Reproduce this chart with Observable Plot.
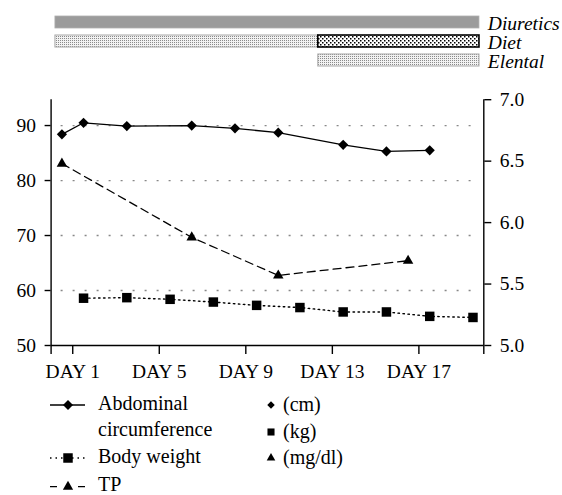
<!DOCTYPE html>
<html><head><meta charset="utf-8">
<script src="https://cdn.jsdelivr.net/npm/d3@7"></script>
<script src="https://cdn.jsdelivr.net/npm/@observablehq/plot@0.6"></script>
<style>
body{margin:0;background:#fff;}
#chart{width:562px;height:495px;position:relative;overflow:hidden;background:#fff;font-family:"Liberation Serif",serif;}
#chart svg{display:block;}
#chart svg, #chart svg text{font-family:"Liberation Serif",serif !important;}
</style></head><body>
<svg width="0" height="0" style="position:absolute">
<defs>
<pattern id="lightDots" width="2" height="2" patternUnits="userSpaceOnUse">
<rect width="2" height="2" fill="#f2f2f2"/><rect width="1" height="1" fill="#8a8a8a"/>
</pattern>
<pattern id="darkDots" width="4" height="4" patternUnits="userSpaceOnUse">
<rect width="4" height="4" fill="#fff"/><rect width="1.5" height="1.5" fill="#000"/><rect x="2" y="2" width="1.5" height="1.5" fill="#000"/>
</pattern>
</defs></svg>
<div id="chart"></div>
<script>
// ---- data ----
const treatments = ["Diuretics", "Diet", "Elental"];
const periodTreatment = ["Diuretics", "Diet", "Diet", "Elental"];
const periodStart = [0.2, 0.2, 12.35, 12.35];
const periodEnd = [19.8, 12.35, 19.8, 19.8];
const periodKind = ["solid", "light", "dark", "light"];

const dayTicks = [1, 5, 9, 13, 17];
const dayLabels = ["DAY 1", "DAY 5", "DAY 9", "DAY 13", "DAY 17"];
const leftTicks = [50, 60, 70, 80, 90];
const rightTicks = [5.0, 5.5, 6.0, 6.5, 7.0];

const abdDays = [0.5, 1.5, 3.5, 6.5, 8.5, 10.5, 13.5, 15.5, 17.5];
const abdValues = [88.4, 90.5, 89.9, 90.0, 89.5, 88.7, 86.5, 85.3, 85.5];
const bwDays = [1.5, 3.5, 5.5, 7.5, 9.5, 11.5, 13.5, 15.5, 17.5, 19.5];
const bwValues = [58.6, 58.7, 58.4, 57.9, 57.3, 56.9, 56.1, 56.1, 55.3, 55.1];
const tpDays = [0.5, 6.5, 10.5, 16.5];
const tpValues = [6.48, 5.88, 5.57, 5.69];

const legendSeries = ["Abdominal\ncircumference", "Body weight", "TP"];
const legendUnits = ["(cm)", "(kg)", "(mg/dl)"];

// ---- scales helpers ----
const yLeftDomain = [50, 94.7];
const yRightDomain = [5, 7];
const kScale = (yLeftDomain[1] - yLeftDomain[0]) / (yRightDomain[1] - yRightDomain[0]);
const toLeft = v => yLeftDomain[0] + (v - yRightDomain[0]) * kScale;
const fromLeft = v => yRightDomain[0] + (v - yLeftDomain[0]) / kScale;

const fontName = "Liberation Serif";
const fillFor = {solid: "#9b9b9b", light: "url(#lightDots)", dark: "url(#darkDots)"};
const strokeFor = {solid: "#b0b0b0", light: "#a8a8a8", dark: "#000"};
const strokeWFor = {solid: 0.8, light: 1, dark: 1.6};

const periods = periodTreatment.map((t, i) => ({t, x1: periodStart[i], x2: periodEnd[i], kind: periodKind[i]}));
const abd = abdDays.map((d, i) => ({d, v: abdValues[i]}));
const bw = bwDays.map((d, i) => ({d, v: bwValues[i]}));
const tp = tpDays.map((d, i) => ({d, v: tpValues[i]}));

const chartEl = document.getElementById("chart");
const M = {left: 50.6, right: 78.7};

// ---- treatment bars ----
const topPlot = Plot.plot({
  width: 562, height: 80, marginLeft: M.left, marginRight: M.right, marginTop: 0, marginBottom: 0,
  style: {fontFamily: fontName, fontSize: "19px", color: "#000", background: "transparent", overflow: "visible"},
  x: {domain: [0, 20], axis: null},
  y: {type: "band", domain: treatments, range: [15.7, 66.6], paddingInner: 0.363, paddingOuter: 0, axis: null},
  marks: [
    Plot.barX(periods, {x1: "x1", x2: "x2", y: "t", fill: d => fillFor[d.kind], stroke: d => strokeFor[d.kind], strokeWidth: d => strokeWFor[d.kind]}),
    Plot.text(treatments, {y: d => d, frameAnchor: "right", textAnchor: "start", dx: 4, dy: 1, fontStyle: "italic", fontSize: 19.5})
  ]
});
chartEl.appendChild(topPlot);

// ---- main chart ----
const mainPlot = Plot.plot({
  width: 562, height: 300, marginTop: 19.2, marginBottom: 35, marginLeft: M.left, marginRight: M.right,
  style: {fontFamily: fontName, fontSize: "19.5px", color: "#000", background: "transparent", overflow: "visible"},
  x: {domain: [0, 20]},
  y: {domain: yLeftDomain},
  marks: [
    Plot.ruleY([60, 70, 80, 90], {stroke: "#888", strokeWidth: 1.3, strokeDasharray: "2,10", insetLeft: 10, insetRight: 4}),
    Plot.ruleY([yLeftDomain[0]], {stroke: "#000", strokeWidth: 1.4}),
    Plot.ruleX([0, 20], {stroke: "#000", strokeWidth: 1.4, insetBottom: -9}),
    Plot.axisY({anchor: "left", ticks: leftTicks, tickSize: 6, tickPadding: 9, tickFormat: d => String(d), label: null, strokeWidth: 1.4}),
    Plot.axisY({anchor: "right", ticks: rightTicks.map(toLeft), tickSize: 7, tickPadding: 9, tickFormat: d => fromLeft(d).toFixed(1), label: null, strokeWidth: 1.4}),
    Plot.axisX({ticks: dayTicks, tickSize: 9, tickPadding: 10, tickFormat: d => dayLabels[dayTicks.indexOf(d)], label: null, strokeWidth: 1.4}),
    Plot.line(bw, {x: "d", y: "v", stroke: "#000", strokeWidth: 1.4, strokeDasharray: "1.5,3.5"}),
    Plot.line(tp, {x: "d", y: d => toLeft(d.v), stroke: "#000", strokeWidth: 1.3, strokeDasharray: "8,5"}),
    Plot.line(abd, {x: "d", y: "v", stroke: "#000", strokeWidth: 1.3}),
    Plot.dot(bw, {x: "d", y: "v", symbol: "square", r: 5.35, fill: "#000", stroke: null}),
    Plot.dot(tp, {x: "d", y: d => toLeft(d.v), symbol: "triangle", r: 3.9, fill: "#000", stroke: null}),
    Plot.dot(abd, {x: "d", y: "v", symbol: d3.symbolDiamond2, r: 4.6, fill: "#000", stroke: null})
  ]
});
chartEl.appendChild(mainPlot);

// ---- legend ----
const lg = d3.create("svg").attr("width", 562).attr("height", 115)
  .attr("font-family", fontName).attr("font-size", 20).style("overflow", "visible");
const symbols = [d3.symbolDiamond2, d3.symbolSquare, d3.symbolTriangle];
const symSize = [64, 90, 46];
const symSizeSmall = [36, 50, 32];
const dashes = [null, "1.5,4", "7,21"];
const rowY = [25, 78, 106.7];
const textY = [30, 82.5, 110.5];
const unitY = [25, 52, 78];
legendSeries.forEach((name, i) => {
  const g = lg.append("g");
  g.append("line").attr("x1", 50).attr("x2", 85).attr("y1", rowY[i]).attr("y2", rowY[i])
    .attr("stroke", "#000").attr("stroke-width", 1.3).attr("stroke-dasharray", dashes[i]);
  g.append("path").attr("d", d3.symbol(symbols[i], symSize[i])())
    .attr("transform", `translate(68,${rowY[i]})`).attr("fill", "#000");
  name.split("\n").forEach((line, j) => {
    g.append("text").attr("x", 98).attr("y", textY[i] + j * 26).text(line);
  });
});
legendUnits.forEach((u, i) => {
  lg.append("path").attr("d", d3.symbol(symbols[i], symSizeSmall[i])())
    .attr("transform", `translate(271,${unitY[i]})`).attr("fill", "#000");
  lg.append("text").attr("x", 283).attr("y", unitY[i] + 5.5).text(u);
});
chartEl.appendChild(lg.node());
</script>
</body></html>
